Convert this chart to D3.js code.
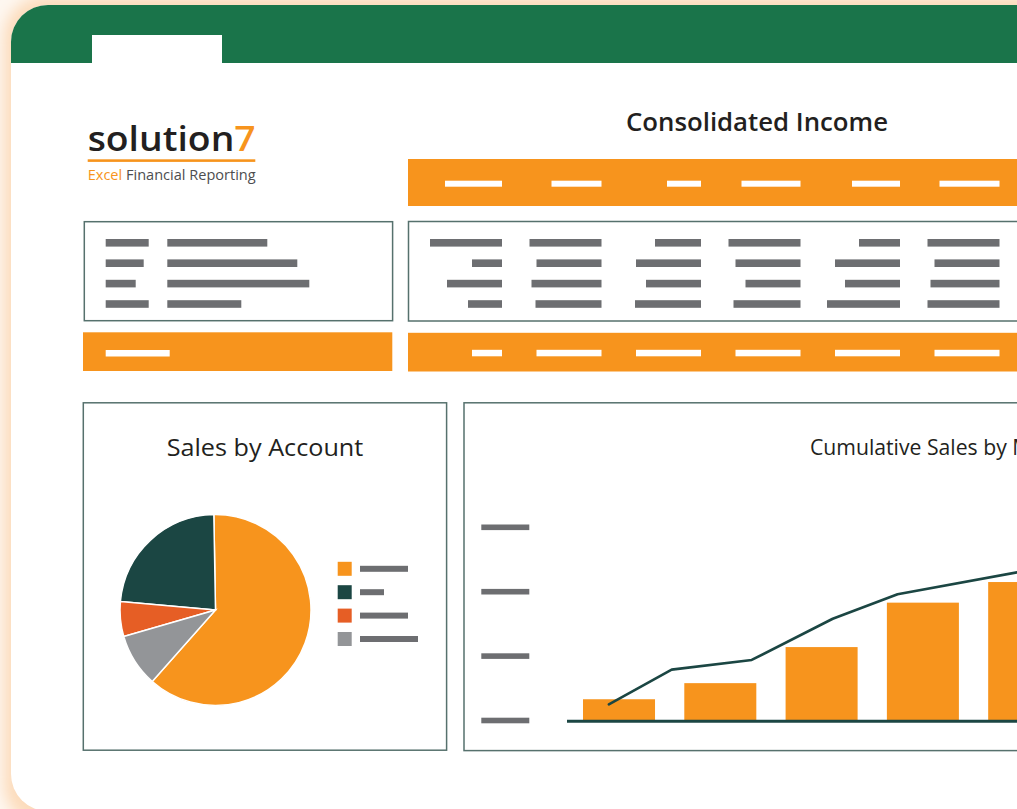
<!DOCTYPE html>
<html>
<head>
<meta charset="utf-8">
<script src="https://cdn.jsdelivr.net/npm/d3@7"></script>
<style>
  html,body{margin:0;padding:0;overflow:hidden;background:#fef7f0;}
  svg{display:block;}
</style>
</head>
<body>
<svg id="chart" width="1017" height="809"></svg>
<script>
// ---------------- DATA ----------------
const reportTitle = "Consolidated Income";
const logoWord = "solution";
const logoDigit = "7";
const logoTagFirst = "Excel";
const logoTagRest = " Financial Reporting";

// Summary table placeholders (redacted text lengths, px)
const leftLabelLens  = [43, 38, 30, 43];
const leftValueLens  = [100, 130, 142, 74];
const leftTotalLens  = [64];
const headerLens     = [57, 50, 34, 59, 48, 60];
const tableRowLens   = [
  [72, 72, 46, 72, 41, 72],
  [30, 65, 65, 65, 65, 65],
  [55, 70, 55, 55, 55, 69],
  [34, 66, 66, 67, 73, 72]
];
const totalLens      = [30, 65, 65, 65, 65, 65];

// Pie: Sales by Account (legend order)
const pieTitle = "Sales by Account";
const accounts = ["Account 1", "Account 2", "Account 3", "Account 4"];
const accountShares = [61.8, 23.3, 5.9, 9.0];
const accountColors = ["#f7941d", "#1b4643", "#e65e25", "#939598"];
const pieDrawOrder = ["Account 1", "Account 4", "Account 3", "Account 2"];
const legendLabelLens = [48, 24, 48, 58];

// Bar + line: Cumulative Sales by Month
const barTitle = "Cumulative Sales by Month";
const months = ["Jan", "Feb", "Mar", "Apr", "May"];
const monthlySales = [33, 58, 114, 183, 215];
const linePositions = [-0.10, 0.52, 1.31, 2.11, 2.75, 3.93];
const lineValues = [25, 79, 94, 158, 196, 230];
const yTicks = [0, 100, 200, 300];

// ---------------- STYLE ----------------
const ORANGE = "#f7941d", GREEN = "#1a744a", DARK = "#1b4643", GRAY = "#6d6e71";
const BORDER = "#56716d", FONT = "'Open Sans', 'Noto Sans', sans-serif";

const svg = d3.select("#chart");
const defs = svg.append("defs");
const f = defs.append("filter").attr("id", "glow")
  .attr("x", "-10%").attr("y", "-10%").attr("width", "120%").attr("height", "120%");
f.append("feGaussianBlur").attr("stdDeviation", 7);
defs.append("clipPath").attr("id", "cardClip")
  .append("rect").attr("x", 11).attr("y", 5).attr("width", 1200).attr("height", 806).attr("rx", 37);

// background + glow
svg.append("rect").attr("width", 1017).attr("height", 809).attr("fill", "#fef7f0");
svg.append("rect").attr("x", 4).attr("y", -4).attr("width", 1220).attr("height", 830).attr("rx", 42)
  .attr("fill", "#fcdcbc").attr("filter", "url(#glow)");

// card
const card = svg.append("g").attr("clip-path", "url(#cardClip)");
card.append("rect").attr("x", 11).attr("y", 5).attr("width", 1200).attr("height", 806).attr("fill", "#fff");
card.append("rect").attr("x", 11).attr("y", 5).attr("width", 1200).attr("height", 58).attr("fill", GREEN);
card.append("rect").attr("x", 92).attr("y", 35).attr("width", 130).attr("height", 28.5).attr("fill", "#fff");

// logo
const logo = svg.append("text").attr("x", 87.7).attr("y", 150.5)
  .attr("font-family", FONT).attr("font-size", 34).attr("font-weight", 600).attr("fill", "#231f20")
  .attr("textLength", 168).attr("lengthAdjust", "spacingAndGlyphs");
logo.append("tspan").text(logoWord);
logo.append("tspan").attr("fill", ORANGE).text(logoDigit);
svg.append("rect").attr("x", 87.7).attr("y", 159.3).attr("width", 167.6).attr("height", 2.6).attr("fill", ORANGE);
const tag = svg.append("text").attr("x", 87.7).attr("y", 180)
  .attr("font-family", FONT).attr("font-size", 14.5).attr("fill", "#4d4d4f")
  .attr("textLength", 168).attr("lengthAdjust", "spacingAndGlyphs");
tag.append("tspan").attr("fill", ORANGE).text(logoTagFirst);
tag.append("tspan").text(logoTagRest);

// report title
svg.append("text").attr("x", 626).attr("y", 131).attr("font-family", FONT).attr("font-weight", 600)
  .attr("font-size", 25.5).attr("fill", "#231f20")
  .attr("textLength", 262).attr("lengthAdjust", "spacingAndGlyphs").text(reportTitle);

// --------- summary table ---------
const colRight = d3.scaleLinear().domain([0, 5]).range([502, 999.5]);
const rowY = d3.scaleLinear().domain([0, 3]).range([242.8, 304]);

// header bar
svg.append("rect").attr("x", 408).attr("y", 159).attr("width", 700).attr("height", 47).attr("fill", ORANGE);
svg.append("g").selectAll("rect").data(headerLens).join("rect")
  .attr("x", (d, i) => colRight(i) - d).attr("y", 180.7).attr("width", d => d).attr("height", 6).attr("fill", "#fff");

// left box
svg.append("rect").attr("x", 84.3).attr("y", 221.7).attr("width", 308.3).attr("height", 99)
  .attr("fill", "none").attr("stroke", BORDER).attr("stroke-width", 1.5);
svg.append("g").selectAll("rect").data(leftLabelLens).join("rect")
  .attr("x", 105.7).attr("y", (d, i) => rowY(i) - 3.8).attr("width", d => d).attr("height", 7.6).attr("fill", GRAY);
svg.append("g").selectAll("rect").data(leftValueLens).join("rect")
  .attr("x", 167.3).attr("y", (d, i) => rowY(i) - 3.8).attr("width", d => d).attr("height", 7.6).attr("fill", GRAY);

// right box
svg.append("rect").attr("x", 408.5).attr("y", 221.5).attr("width", 700).attr("height", 99.5)
  .attr("fill", "none").attr("stroke", BORDER).attr("stroke-width", 1.5);
const rowsG = svg.append("g").selectAll("g").data(tableRowLens).join("g");
rowsG.selectAll("rect").data((row, r) => row.map(w => ({w, r}))).join("rect")
  .attr("x", (d, i) => colRight(i) - d.w).attr("y", d => rowY(d.r) - 3.8)
  .attr("width", d => d.w).attr("height", 7.6).attr("fill", GRAY);

// totals bars
svg.append("rect").attr("x", 83).attr("y", 332.3).attr("width", 309.3).attr("height", 38.7).attr("fill", ORANGE);
svg.append("g").selectAll("rect").data(leftTotalLens).join("rect")
  .attr("x", 105.7).attr("y", 350).attr("width", d => d).attr("height", 6.5).attr("fill", "#fff");
svg.append("rect").attr("x", 408).attr("y", 332.8).attr("width", 700).attr("height", 38.7).attr("fill", ORANGE);
svg.append("g").selectAll("rect").data(totalLens).join("rect")
  .attr("x", (d, i) => colRight(i) - d).attr("y", 349.8).attr("width", d => d).attr("height", 6.5).attr("fill", "#fff");

// --------- pie panel ---------
svg.append("rect").attr("x", 83.3).attr("y", 402.8).attr("width", 363.3).attr("height", 347.4)
  .attr("fill", "none").attr("stroke", BORDER).attr("stroke-width", 1.5);
svg.append("text").attr("x", 265).attr("y", 456).attr("text-anchor", "middle")
  .attr("font-family", FONT).attr("font-size", 24.5).attr("fill", "#231f20")
  .attr("textLength", 196.6).attr("lengthAdjust", "spacingAndGlyphs").text(pieTitle);

const pieData = accounts.map((a, i) => ({account: a, value: accountShares[i], color: accountColors[i]}));
const pie = d3.pie().value(d => d.value)
  .sort((a, b) => pieDrawOrder.indexOf(a.account) - pieDrawOrder.indexOf(b.account))
  .startAngle(-Math.PI / 180).endAngle(2 * Math.PI - Math.PI / 180);
const arc = d3.arc().innerRadius(0).outerRadius(95.5);
svg.append("g").attr("transform", "translate(215.5,610)")
  .selectAll("path").data(pie(pieData)).join("path")
  .attr("d", arc).attr("fill", d => d.data.color).attr("stroke", "#fff").attr("stroke-width", 1.5);

const legY = d3.scalePoint().domain(accounts).range([568.8, 639]);
const leg = svg.append("g").selectAll("g").data(pieData).join("g")
  .attr("transform", d => `translate(337.7,${legY(d.account)})`);
leg.append("rect").attr("x", 0).attr("y", -7).attr("width", 14).attr("height", 14).attr("fill", d => d.color);
leg.append("rect").attr("x", 22.3).attr("y", -3).attr("width", (d, i) => legendLabelLens[i]).attr("height", 6).attr("fill", GRAY);

// --------- bar + line panel ---------
svg.append("rect").attr("x", 464).attr("y", 402.8).attr("width", 700).attr("height", 347.8)
  .attr("fill", "none").attr("stroke", BORDER).attr("stroke-width", 1.5);
svg.append("text").attr("x", 810).attr("y", 455).attr("font-family", FONT)
  .attr("font-size", 21.2).attr("fill", "#231f20").text(barTitle);

const x = d3.scaleBand().domain(months).range([567, 1076.2]).paddingInner(0.289).paddingOuter(0.158);
const y = d3.scaleLinear().domain([0, 300]).range([720.5, 527.3]);
const xLine = d3.scaleLinear().domain([0, months.length - 1])
  .range([x(months[0]) + x.bandwidth() / 2, x(months[months.length - 1]) + x.bandwidth() / 2]);

// y tick placeholders
svg.append("g").selectAll("rect").data(yTicks).join("rect")
  .attr("x", 481.3).attr("y", d => y(d) - 2.8).attr("width", 48).attr("height", 5.6).attr("fill", GRAY);

svg.append("g").selectAll("rect").data(monthlySales).join("rect")
  .attr("x", (d, i) => x(months[i])).attr("y", d => y(d))
  .attr("width", x.bandwidth()).attr("height", d => y(0) - y(d)).attr("fill", ORANGE);

svg.append("line").attr("x1", x.range()[0]).attr("x2", x.range()[1])
  .attr("y1", y(0) + 0.7).attr("y2", y(0) + 0.7).attr("stroke", DARK).attr("stroke-width", 3);

const linePts = linePositions.map((p, i) => [p, lineValues[i]]);
svg.append("path").datum(linePts)
  .attr("d", d3.line().x(d => xLine(d[0])).y(d => y(d[1])))
  .attr("fill", "none").attr("stroke", DARK).attr("stroke-width", 2.6)
  .attr("stroke-linejoin", "round").attr("stroke-linecap", "round");
</script>
</body>
</html>
